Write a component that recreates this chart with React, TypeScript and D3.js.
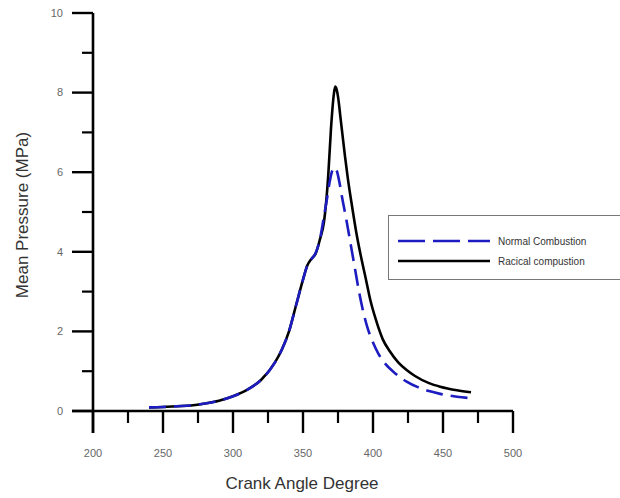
import React from "react";
import * as d3 from "d3";

const radicalAngle = [240, 250, 260, 270, 280, 290, 300, 310, 320, 330, 335, 340, 345, 350, 353, 356, 359, 362, 365, 368, 370, 372, 373, 374, 375, 376, 377, 378, 380, 382, 385, 388, 391, 395, 398, 402, 407, 412, 418, 424, 430, 440, 448, 460, 470];
const radicalPressure = [0.09, 0.1, 0.12, 0.14, 0.19, 0.26, 0.37, 0.53, 0.78, 1.22, 1.55, 2.0, 2.65, 3.3, 3.65, 3.82, 3.95, 4.3, 4.75, 5.9, 7.1, 7.95, 8.15, 8.08, 7.9, 7.62, 7.3, 7.0, 6.4, 5.85, 5.15, 4.5, 3.95, 3.3, 2.8, 2.3, 1.8, 1.5, 1.22, 1.03, 0.88, 0.7, 0.61, 0.52, 0.47];

const normalAngle = [240, 250, 260, 270, 280, 290, 300, 310, 320, 330, 335, 340, 345, 350, 353, 356, 359, 362, 365, 367, 369, 371, 372.5, 374, 376, 378, 381, 384, 387, 390, 393, 396, 400, 404, 408, 415, 424, 432, 440, 448, 460, 470];
const normalPressure = [0.09, 0.1, 0.12, 0.14, 0.19, 0.26, 0.37, 0.53, 0.78, 1.22, 1.55, 2.0, 2.65, 3.3, 3.65, 3.82, 3.97, 4.3, 4.9, 5.3, 5.75, 6.05, 6.12, 6.05, 5.75, 5.35, 4.8, 4.2, 3.6, 3.0, 2.5, 2.1, 1.72, 1.43, 1.22, 0.97, 0.74, 0.6, 0.5, 0.43, 0.36, 0.32];

const xMajorTicks = [200, 250, 300, 350, 400, 450, 500];
const xMinorTicks = [225, 275, 325, 375, 425, 475];
const yMajorTicks = [0, 2, 4, 6, 8, 10];
const yMinorTicks = [1, 3, 5, 7, 9];

const seriesNames = ["Normal Combustion", "Racical compustion"];

export default function App() {
  const W = 620, H = 498;
  const x = d3.scaleLinear().domain([200, 500]).range([93, 513]);
  const y = d3.scaleLinear().domain([0, 10]).range([411, 13]);

  const line = d3
    .line<[number, number]>()
    .x((d) => x(d[0]))
    .y((d) => y(d[1]))
    .curve(d3.curveMonotoneX);

  const radical = radicalAngle.map((a, i) => [a, radicalPressure[i]] as [number, number]);
  const normal = normalAngle.map((a, i) => [a, normalPressure[i]] as [number, number]);

  const font = "'Liberation Sans', Arial, Helvetica, sans-serif";
  const blue = "#1c1cc0";

  return (
    <svg width={W} height={H} style={{ position: "absolute", left: 0, top: 0, background: "#fff" }}>
      <rect x={0} y={0} width={W} height={H} fill="#fff" />
      {/* curves */}
      <path d={line(radical) || ""} fill="none" stroke="#000" strokeWidth={2.6} />
      <path d={line(normal) || ""} fill="none" stroke={blue} strokeWidth={2.6} strokeDasharray="17,8" />

      {/* axes */}
      <line x1={x(200)} x2={x(200)} y1={y(10)} y2={y(0) + 22} stroke="#000" strokeWidth={2.6} />
      <line x1={x(200) - 21} x2={x(500)} y1={y(0)} y2={y(0)} stroke="#000" strokeWidth={2.6} />
      {yMajorTicks.map((t) => (
        <g key={"ym" + t}>
          <line x1={x(200) - 21} x2={x(200)} y1={y(t)} y2={y(t)} stroke="#000" strokeWidth={2.4} />
          <text x={63} y={y(t)} dy="0.35em" textAnchor="end" fontFamily={font} fontSize={11} fill="#666">
            {t}
          </text>
        </g>
      ))}
      {yMinorTicks.map((t) => (
        <line key={"yn" + t} x1={x(200) - 11} x2={x(200)} y1={y(t)} y2={y(t)} stroke="#000" strokeWidth={2.2} />
      ))}
      {xMajorTicks.map((t) => (
        <g key={"xm" + t}>
          <line x1={x(t)} x2={x(t)} y1={y(0)} y2={y(0) + 22} stroke="#000" strokeWidth={2.4} />
          <text x={x(t)} y={453} dy="0.35em" textAnchor="middle" fontFamily={font} fontSize={11} fill="#666">
            {t}
          </text>
        </g>
      ))}
      {xMinorTicks.map((t) => (
        <line key={"xn" + t} x1={x(t)} x2={x(t)} y1={y(0)} y2={y(0) + 12} stroke="#000" strokeWidth={2.2} />
      ))}

      {/* axis titles */}
      <text x={302} y={483} dy="0.35em" textAnchor="middle" fontFamily={font} fontSize={17} fill="#333">
        Crank Angle Degree
      </text>
      <text
        transform={`translate(22,215) rotate(-90)`}
        dy="0.35em"
        textAnchor="middle"
        fontFamily={font}
        fontSize={17}
        fill="#333"
      >
        Mean Pressure (MPa)
      </text>

      {/* legend */}
      <rect x={388.5} y={215.5} width={240} height={64} fill="#fff" stroke="#777" strokeWidth={1} />
      <line x1={398} x2={490} y1={241} y2={241} stroke={blue} strokeWidth={2.6} strokeDasharray="27,8" />
      <line x1={398} x2={490} y1={261} y2={261} stroke="#000" strokeWidth={2.6} />
      <text x={498} y={241} dy="0.35em" fontFamily={font} fontSize={10} fill="#333">
        {seriesNames[0]}
      </text>
      <text x={498} y={261} dy="0.35em" fontFamily={font} fontSize={10} fill="#333">
        {seriesNames[1]}
      </text>
    </svg>
  );
}
